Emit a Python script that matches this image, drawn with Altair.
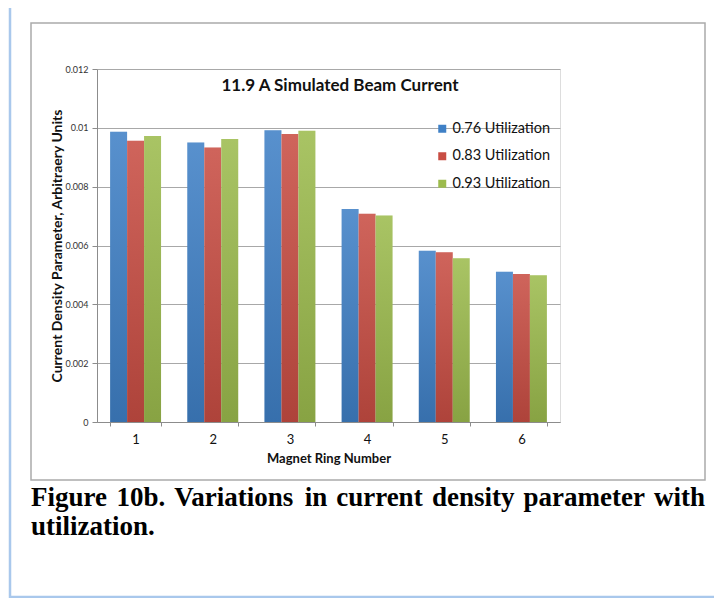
import altair as alt
import pandas as pd

rings = ["1", "2", "3", "4", "5", "6"]
series = ["0.76 Utilization", "0.83 Utilization", "0.93 Utilization"]
u076 = [0.00987, 0.00950, 0.00992, 0.00724, 0.00582, 0.00511]
u083 = [0.00956, 0.00933, 0.00979, 0.00708, 0.00577, 0.00503]
u093 = [0.00972, 0.00962, 0.00990, 0.00702, 0.00557, 0.00499]
colors = ["#3f80c6", "#c84d43", "#9cbb4d"]
y_ticks = [0, 0.002, 0.004, 0.006, 0.008, 0.01, 0.012]

chart_title = "11.9 A Simulated Beam Current"
x_title = "Magnet Ring Number"
y_title = "Current Density Parameter, Arbitraery Units"
caption1 = "Figure 10b. Variations in current density parameter with"
caption2 = "utilization."

rows = []
for s, vals in zip(series, [u076, u083, u093]):
    for r, v in zip(rings, vals):
        rows.append({"ring": r, "series": s, "value": v})
df = pd.DataFrame(rows)

W, H = 463, 353

# --- justified caption layout (Times Bold metrics, per 1000 em) ---
TB = {"F": 611, "V": 722, "a": 500, "b": 556, "c": 444, "d": 556, "e": 444, "g": 500,
      "h": 556, "i": 278, "l": 278, "m": 833, "n": 556, "o": 500, "p": 556, "r": 444,
      "s": 389, "t": 333, "u": 556, "w": 722, "y": 500, "z": 444, ".": 250,
      "0": 500, "1": 500}
CAP_SIZE = 27
CAP_LEFT, CAP_RIGHT = -66, 608
words = caption1.split(" ")
wid = [sum(TB.get(ch, 500) for ch in w) * CAP_SIZE / 1000 for w in words]
gap = (CAP_RIGHT - CAP_LEFT - sum(wid)) / (len(words) - 1)
word_rows = []
pos = CAP_LEFT
for w, ww in zip(words, wid):
    word_rows.append({"word": w, "px": pos})
    pos += ww + gap
word_df = pd.DataFrame(word_rows)

x_enc = alt.X("ring:N", sort=rings,
              scale=alt.Scale(paddingInner=0.34, paddingOuter=0.17),
              axis=alt.Axis(title=x_title, labelAngle=0, tickBand="extent",
                            grid=False, tickSize=4, labelPadding=7,
                            labelFontSize=13, labelColor="#111",
                            titleFontSize=13, titleFontWeight="bold",
                            titlePadding=6, titleColor="#111",
                            domainColor="#8c8c8c", tickColor="#8c8c8c"))
xo_enc = alt.XOffset("series:N", sort=series,
                     scale=alt.Scale(domain=series, paddingInner=0, paddingOuter=0))
y_enc = alt.Y("value:Q", scale=alt.Scale(domain=[0, 0.012], nice=False),
              axis=alt.Axis(title=y_title, values=y_ticks, labelExpr="datum.value",
                            labelFontSize=9, labelColor="#333", tickSize=5,
                            labelPadding=4, gridColor="#a8a8a8",
                            domainColor="#8c8c8c", tickColor="#8c8c8c",
                            titleFontSize=14, titleFontWeight="bold",
                            titleColor="#111", titlePadding=0))

bars = alt.Chart(df).mark_bar().encode(
    x=x_enc, xOffset=xo_enc, y=y_enc,
    color=alt.Color("series:N", sort=series,
                    scale=alt.Scale(domain=series, range=colors),
                    legend=alt.Legend(title=None, orient="none", legendX=338, legendY=52.5,
                                      symbolType="square", symbolSize=64,
                                      symbolStrokeWidth=0, labelFontSize=14.5,
                                      labelColor="#111", labelOffset=3,
                                      rowPadding=12.5, padding=0, symbolOpacity=1)),
)

shade = alt.Chart(df).mark_bar(
    color=alt.LinearGradient(gradient="linear",
                             stops=[alt.GradientStop(color="#ffffff", offset=0),
                                    alt.GradientStop(color="#000000", offset=1)],
                             x1=0, x2=0, y1=0, y2=1),
    opacity=0.13,
).encode(x=alt.X("ring:N", sort=rings), xOffset=alt.XOffset("series:N", sort=series),
         y=alt.Y("value:Q"))

one = alt.Data(values=[{"k": 1}])

title_mark = alt.Chart(one).mark_text(
    text=chart_title, font="Lato", fontSize=17, fontWeight="bold", color="#111",
    align="center", baseline="middle").encode(x=alt.value(243), y=alt.value(17))

gray_box = alt.Chart(one).mark_rect(filled=False, stroke="#ababab", strokeWidth=1.5).encode(
    x=alt.value(-66), x2=alt.value(608), y=alt.value(-46), y2=alt.value(411))

blue_box = alt.Chart(one).mark_rect(filled=False, stroke="#a9c8ec", strokeWidth=2.5).encode(
    x=alt.value(-87), x2=alt.value(700), y=alt.value(-67), y2=alt.value(528))

cap_words = alt.Chart(word_df).mark_text(
    font="Liberation Serif", fontSize=CAP_SIZE, fontWeight="bold", color="#000",
    align="left", baseline="alphabetic").encode(
    x=alt.X("px:Q", scale=None),
    y=alt.value(437),
    text="word:N",
)
cap2 = alt.Chart(one).mark_text(
    text=caption2, font="Liberation Serif", fontSize=CAP_SIZE, fontWeight="bold", color="#000",
    align="left", baseline="alphabetic").encode(x=alt.value(-66), y=alt.value(466))

chart = alt.layer(blue_box, gray_box, bars, shade, title_mark, cap_words, cap2).properties(
    width=W, height=H,
    autosize=alt.AutoSizeParams(type="none"),
    padding={"left": 89, "top": 61, "right": 154, "bottom": 176},
    background="white",
).configure_view(stroke=None).configure(font="Lato")

chart.save("out.html", embed_options={"renderer": "svg", "actions": False})
